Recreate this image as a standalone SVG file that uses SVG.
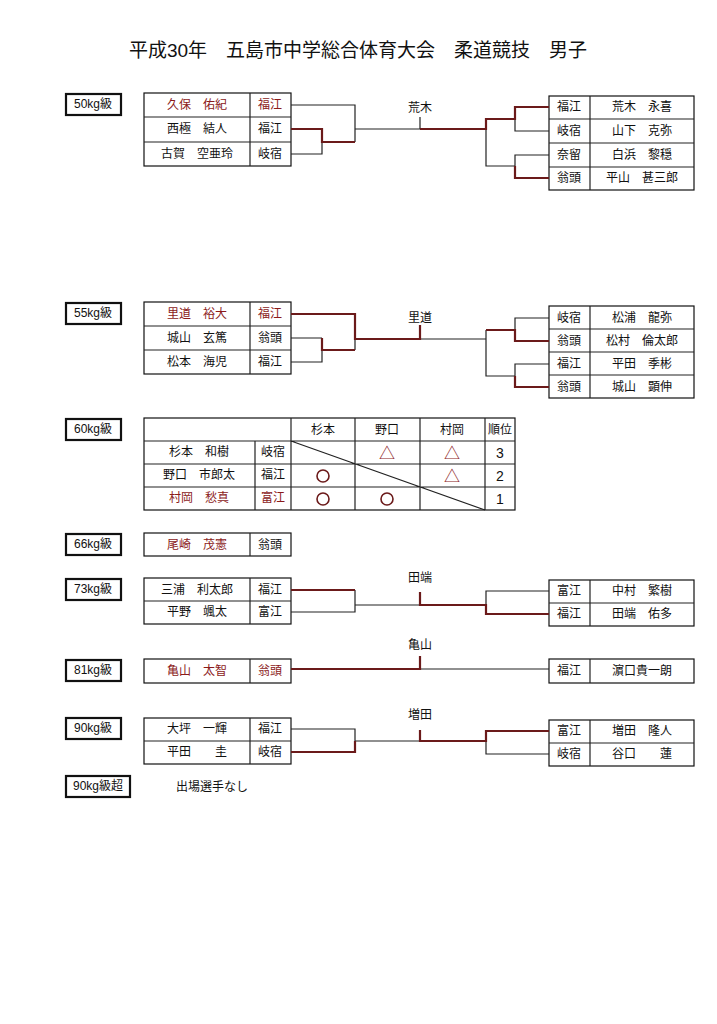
<svg xmlns="http://www.w3.org/2000/svg" width="717" height="1024" viewBox="0 0 717 1024">
<style>
text{font-family:"Liberation Sans","Noto Sans CJK JP",sans-serif;font-size:12px;fill:#111;text-anchor:middle;dominant-baseline:central}
.t{font-size:19px}
.w{fill:#8b1a1a}
.b{fill:#fff;stroke:#111;stroke-width:1.2}
.lb{fill:#fff;stroke:#111;stroke-width:2.2}
.l{fill:none;stroke:#222;stroke-width:1.2}
.r{fill:none;stroke:#6b1a1a;stroke-width:2.2}
</style>
<rect width="717" height="1024" fill="#fff"/>
<text class="t" x="358" y="50">平成30年　五島市中学総合体育大会　柔道競技　男子</text>

<g id="w50">
<rect class="lb" x="66" y="94" width="55" height="21"/><text x="93" y="104">50kg級</text>
<rect class="b" x="144" y="93" width="147" height="73"/>
<path class="l" d="M144 117H291M144 142H291M250 93V166"/>
<text class="w" x="197" y="105">久保　佑紀</text><text class="w" x="270" y="105">福江</text>
<text x="197" y="129">西極　結人</text><text x="270" y="129">福江</text>
<text x="197" y="154">古賀　空亜玲</text><text x="270" y="154">岐宿</text>
<rect class="b" x="549" y="96" width="145" height="94"/>
<path class="l" d="M549 119H694M549 143H694M549 167H694M590 96V190"/>
<text x="569" y="107">福江</text><text x="642" y="107">荒木　永喜</text>
<text x="569" y="131">岐宿</text><text x="642" y="131">山下　克弥</text>
<text x="569" y="155">奈留</text><text x="642" y="155">白浜　黎穏</text>
<text x="569" y="178">翁頭</text><text x="642" y="178">平山　甚三郎</text>
<text x="420" y="108">荒木</text>
</g>

<g id="w55">
<rect class="lb" x="66" y="303" width="55" height="21"/><text x="93" y="313">55kg級</text>
<rect class="b" x="144" y="302" width="147" height="72"/>
<path class="l" d="M144 326H291M144 350H291M250 302V374"/>
<text class="w" x="197" y="314">里道　裕大</text><text class="w" x="270" y="314">福江</text>
<text x="197" y="338">城山　玄篤</text><text x="270" y="338">翁頭</text>
<text x="197" y="362">松本　海児</text><text x="270" y="362">福江</text>
<rect class="b" x="549" y="306" width="145" height="92"/>
<path class="l" d="M549 329H694M549 352H694M549 375H694M590 306V398"/>
<text x="569" y="318">岐宿</text><text x="642" y="318">松浦　龍弥</text>
<text x="569" y="341">翁頭</text><text x="642" y="341">松村　倫太郎</text>
<text x="569" y="364">福江</text><text x="642" y="364">平田　季彬</text>
<text x="569" y="387">翁頭</text><text x="642" y="387">城山　顕伸</text>
<text x="420" y="318">里道</text>
</g>

<g id="w60">
<rect class="lb" x="66" y="419" width="55" height="21"/><text x="93" y="429">60kg級</text>
<rect class="b" x="144" y="418" width="371" height="92"/>
<path class="l" d="M144 441H515M144 464H515M144 487H515M255 441V510M291 418V510M355 418V510M420 418V510M485 418V510M291 441L485 510"/>
<text x="323" y="430">杉本</text><text x="387" y="430">野口</text><text x="452" y="430">村岡</text><text x="500" y="430">順位</text>
<text x="199" y="452">杉本　和樹</text><text x="273" y="452">岐宿</text>
<text x="387" y="453" style="font-size:16px" class="w">△</text><text x="452" y="453" style="font-size:16px" class="w">△</text><text x="500" y="453" style="font-size:14px">3</text>
<text x="199" y="475">野口　市郎太</text><text x="273" y="475">福江</text>
<circle cx="323" cy="476" r="6" class="l" style="stroke:#6b1a1a;stroke-width:1.6"/>
<text x="452" y="476" style="font-size:16px" class="w">△</text><text x="500" y="476" style="font-size:14px">2</text>
<text class="w" x="199" y="498">村岡　愁真</text><text class="w" x="273" y="498">富江</text>
<circle cx="323" cy="499" r="6" class="l" style="stroke:#6b1a1a;stroke-width:1.6"/>
<circle cx="387" cy="499" r="6" class="l" style="stroke:#6b1a1a;stroke-width:1.6"/>
<text x="500" y="499" style="font-size:14px">1</text>
</g>

<g id="w66">
<rect class="lb" x="66" y="534" width="55" height="21"/><text x="93" y="544">66kg級</text>
<rect class="b" x="144" y="533" width="147" height="23"/>
<path class="l" d="M250 533V556"/>
<text class="w" x="197" y="545">尾崎　茂憲</text><text x="270" y="545">翁頭</text>
</g>

<g id="w73">
<rect class="lb" x="66" y="579" width="55" height="21"/><text x="93" y="589">73kg級</text>
<rect class="b" x="144" y="578" width="147" height="46"/>
<path class="l" d="M144 601H291M250 578V624"/>
<text x="197" y="590">三浦　利太郎</text><text x="270" y="590">福江</text>
<text x="197" y="612">平野　颯太</text><text x="270" y="612">富江</text>
<rect class="b" x="549" y="580" width="145" height="46"/>
<path class="l" d="M549 603H694M590 580V626"/>
<text x="569" y="591">富江</text><text x="642" y="591">中村　繁樹</text>
<text x="569" y="614">福江</text><text x="642" y="614">田端　佑多</text>
<text x="420" y="578">田端</text>
</g>

<g id="w81">
<rect class="lb" x="66" y="660" width="55" height="21"/><text x="93" y="670">81kg級</text>
<rect class="b" x="144" y="659" width="147" height="24"/>
<path class="l" d="M250 659V683"/>
<text class="w" x="197" y="671">亀山　太智</text><text class="w" x="270" y="671">翁頭</text>
<rect class="b" x="549" y="659" width="145" height="24"/>
<path class="l" d="M590 659V683"/>
<text x="569" y="671">福江</text><text x="642" y="671">濵口貴一朗</text>
<text x="420" y="645">亀山</text>
</g>

<g id="w90">
<rect class="lb" x="66" y="718" width="55" height="21"/><text x="93" y="728">90kg級</text>
<rect class="b" x="144" y="718" width="147" height="46"/>
<path class="l" d="M144 741H291M250 718V764"/>
<text x="197" y="729">大坪　一輝</text><text x="270" y="729">福江</text>
<text x="197" y="752">平田　　圭</text><text x="270" y="752">岐宿</text>
<rect class="b" x="549" y="720" width="145" height="46"/>
<path class="l" d="M549 743H694M590 720V766"/>
<text x="569" y="731">富江</text><text x="642" y="731">増田　隆人</text>
<text x="569" y="754">岐宿</text><text x="642" y="754">谷口　　蓮</text>
<text x="420" y="715">増田</text>
</g>

<g id="w90p">
<rect class="lb" x="66" y="776" width="64" height="21"/><text x="98" y="786">90kg級超</text>
<text x="212" y="787">出場選手なし</text>
</g>

<g id="connectors">
<!-- 50kg -->
<path class="l" d="M291 105H355V142M291 154H322V142M355 129H420M420 117V129M549 131H515V119M549 155H515V166H486V129"/>
<path class="r" d="M291 129H322V142H355M420 129H486V119H515V107H549M549 178H515V166"/>
<!-- 55kg -->
<path class="l" d="M291 338H322M291 362H322V350M355 339V350M420 339H486V330M549 318H515V330M486 339V376H515M549 364H515V387"/>
<path class="r" d="M291 314H355V339H420V325M322 338V350H355M486 330H515V341H549M515 376V387H549"/>
<!-- 73kg -->
<path class="l" d="M291 612H355V590M355 605H420M549 591H486V605"/>
<path class="r" d="M291 590H355M420 592V605H486V614H549"/>
<!-- 81kg -->
<path class="l" d="M420 669H549"/>
<path class="r" d="M291 669H420V656"/>
<!-- 90kg -->
<path class="l" d="M291 729H355V741M355 741H420M549 754H486V741"/>
<path class="r" d="M291 752H355V741M420 730V741H486V731H549"/>
</g>
</svg>
